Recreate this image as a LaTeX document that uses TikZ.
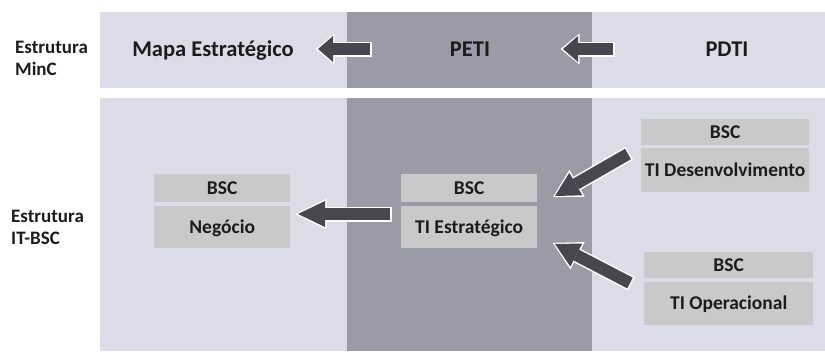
\documentclass[tikz,border=0pt]{standalone}
\usepackage{fontspec}
\setmainfont{Carlito}
\usepackage{tikz}
\usetikzlibrary{arrows.meta}
\definecolor{claro}{HTML}{DCDCE8}
\definecolor{escuro}{HTML}{9B9AA7}
\definecolor{caixa}{HTML}{C9C9C9}
\definecolor{seta}{HTML}{474750}
\definecolor{texto}{HTML}{1C1C1C}
\tikzset{
  topo/.style={font=\fontsize{22.5}{26}\selectfont\bfseries,text=texto,inner sep=0pt,text height=14pt,text depth=0pt},
  rotulo/.style={font=\fontsize{19}{22}\selectfont\bfseries,text=texto,inner sep=0pt,align=left,anchor=north west},
  bsc/.style={fill=caixa,font=\fontsize{19.5}{23}\selectfont\bfseries,text=texto,inner sep=0pt,text height=12pt,text depth=0pt,anchor=north west,minimum width=#1pt},
  bloco/.style={draw=seta,line width=12pt,-{Triangle[width=26pt,length=#1pt,line width=0pt]},
    preaction={draw=white,line width=15pt,shorten >=-2.5pt,shorten <=-1.5pt,-{Triangle[width=31pt,length=#1pt+4pt,line width=0pt]}}},
  bloco/.default=24
}
\begin{document}
\begin{tikzpicture}[x=1pt,y=-1pt]
    \useasboundingbox (0,0) rectangle (825,351);
    \fill[claro] (100,12) rectangle (347,88); \fill[escuro] (347,12) rectangle (592,88);
    \fill[claro] (592,12) rectangle (825,88);
    \fill[claro] (100,98) rectangle (347,351); \fill[escuro] (347,98) rectangle (592,351);
    \fill[claro] (592,98) rectangle (825,351);

    \node[rotulo] (r0) at (15,41) {Estrutura\\MinC};
    \node[rotulo] (r1) at (11,210) {Estrutura\\IT-BSC};

    \node[topo] (t0) at (213,49.5) {Mapa Estratégico};
    \node[topo] (t1) at (470,49) {PETI};
    \node[topo] (t2) at (727,49) {PDTI};

    \node[bsc=136,minimum height=28pt] (h0) at (154,174) {BSC};
    \node[bsc=136,minimum height=42pt] (c0) at (154,206) {Negócio};
    \node[bsc=136,minimum height=28pt] (h1) at (401,174) {BSC};
    \node[bsc=136,minimum height=42pt] (c1) at (401,206) {TI Estratégico};
    \node[bsc=168,minimum height=26pt] (h2) at (641,119) {BSC};
    \node[bsc=168,minimum height=44pt] (c2) at (641,148) {TI Desenvolvimento};
    \node[bsc=169,minimum height=26pt] (h3) at (644,252) {BSC};
    \node[bsc=169,minimum height=43pt] (c3) at (644,282) {TI Operacional};

    \coordinate (a0) at (370,49); \coordinate (a1) at (318,49);
    \coordinate (a2) at (613,49); \coordinate (a3) at (563,49);
    \coordinate (a4) at (390,214); \coordinate (a5) at (298,214);
    \coordinate (a6) at (628,154); \coordinate (a7) at (555,196);
    \coordinate (a8) at (630,283); \coordinate (a9) at (555,244);
    \draw[bloco=15] (a0) -- (a1); \draw[bloco=15] (a2) -- (a3);
    \draw[bloco=27] (a4) -- (a5); \draw[bloco] (a6) -- (a7);
    \draw[bloco] (a8) -- (a9);
  \end{tikzpicture}
\end{document}
